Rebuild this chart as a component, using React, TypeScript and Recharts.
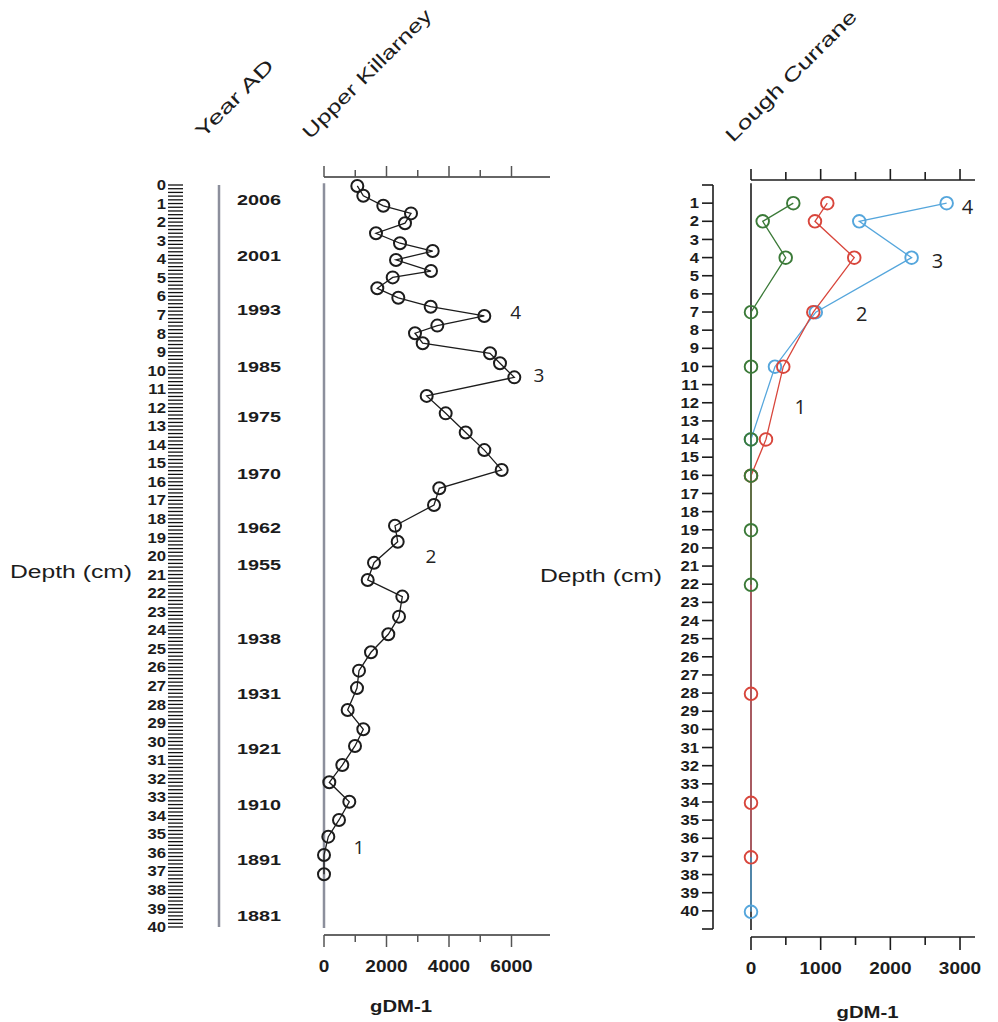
import React from 'react';
import { ScatterChart, Scatter, XAxis, YAxis, ReferenceLine, Label } from 'recharts';

// ---------------- Data ----------------
// Upper Killarney (depth cm, gDM-1)
const ukDepth = [0.05, 0.58, 1.12, 1.53, 2.06, 2.6, 3.14, 3.56, 4.04, 4.64, 4.98, 5.57, 6.08, 6.56, 7.06, 7.58, 7.99, 8.53, 9.07, 9.61, 10.37, 11.37, 12.31, 13.34, 14.29, 15.36, 16.35, 17.25, 18.37, 19.23, 20.36, 21.29, 22.19, 23.27, 24.22, 25.19, 26.18, 27.12, 28.3, 29.34, 30.24, 31.27, 32.2, 33.25, 34.23, 35.13, 36.12, 37.16];
const ukValue = [1066, 1258, 1898, 2784, 2592, 1664, 2432, 3478, 2304, 3424, 2198, 1706, 2378, 3414, 5130, 3626, 2912, 3158, 5312, 5632, 6090, 3286, 3894, 4534, 5130, 5686, 3690, 3520, 2272, 2358, 1600, 1398, 2506, 2400, 2058, 1504, 1120, 1056, 757, 1258, 992, 586, 170, 810, 480, 138, 0, 0];

// Year AD scale
const yearLabels = ['2006', '2001', '1993', '1985', '1975', '1970', '1962', '1955', '1938', '1931', '1921', '1910', '1891', '1881'];
const yearDepths = [0.8, 3.8, 6.75, 9.8, 12.5, 15.55, 18.5, 20.5, 24.45, 27.45, 30.4, 33.4, 36.4, 39.4];

// Lough Currane
const lcGreenDepth = [1, 2, 4, 7, 10, 14, 16, 19, 22];
const lcGreenValue = [607, 168, 498, 0, 0, 0, 0, 0, 0];
const lcRedDepth = [1, 2, 4, 7, 10, 14, 16, 28, 34, 37];
const lcRedValue = [1095, 918, 1482, 894, 463, 215, 0, 0, 0, 0];
const lcBlueDepth = [1, 2, 4, 7, 10, 14, 40];
const lcBlueValue = [2808, 1554, 2305, 930, 344, 0, 0];

// zone annotations
const ukZoneLabels = ['4', '3', '2', '1'];
const ukZoneDepth = [6.85, 10.23, 20.0, 35.7];
const ukZoneValue = [6134, 6880, 3418, 1120];
const lcZoneLabels = ['4', '3', '2', '1'];
const lcZoneDepth = [1.16, 4.14, 7.06, 12.2];
const lcZoneValue = [3107, 2677, 1589, 706];

// tick values
const rulerTicks = Array.from({ length: 201 }, (_, i) => i / 5);
const lcDepthTicks = Array.from({ length: 42 }, (_, i) => i);
const ukTicks = [0, 1000, 2000, 3000, 4000, 5000, 6000];
const lcTicks = [0, 500, 1000, 1500, 2000, 2500, 3000];

// ---------------- Styling ----------------
const FONT = '"Liberation Sans", Arial, Helvetica, sans-serif';
const ZONE_FONT = '"Open Sans", "Noto Sans", sans-serif';
const INK = '#1c1c1c';
const GREY = '#8c8f9c';
const GREEN = '#3b7a38';
const RED = '#d8463c';
const BLUE = '#55a6dc';

const ukRows = ukDepth.map((d, i) => ({ d, v: ukValue[i] }));
const ukZoneRows = ukZoneLabels.map((label, i) => ({ label, d: ukZoneDepth[i], v: ukZoneValue[i] }));
const greenRows = lcGreenDepth.map((d, i) => ({ d, v: lcGreenValue[i] }));
const redRows = lcRedDepth.map((d, i) => ({ d, v: lcRedValue[i] }));
const blueRows = lcBlueDepth.map((d, i) => ({ d, v: lcBlueValue[i] }));
const lcZoneRows = lcZoneLabels.map((label, i) => ({ label, d: lcZoneDepth[i], v: lcZoneValue[i] }));

type STProps = {
  x: number; y: number; text: string; size: number; weight?: string | number; sx?: number;
  anchor?: 'start' | 'middle' | 'end'; fill?: string; rotate?: number; length?: number;
  family?: string; baseline?: string;
};

function SText({ x, y, text, size, weight = 'normal', sx = 1, anchor = 'start', fill = INK, rotate = 0, length, family = FONT, baseline = 'central' }: STProps) {
  const t = `translate(${x},${y})${rotate ? ` rotate(${rotate})` : ''}${sx !== 1 ? ` scale(${sx},1)` : ''}`;
  return (
    <text
      transform={t}
      x={0}
      y={0}
      fontSize={size}
      fontWeight={weight}
      fontFamily={family}
      textAnchor={anchor}
      dominantBaseline={baseline}
      fill={fill}
      textLength={length}
      lengthAdjust={length ? 'spacingAndGlyphs' : undefined}
    >
      {text}
    </text>
  );
}

// ---------------- Tick renderers ----------------
const RulerTick = (p: any) => {
  const { x, y, payload } = p;
  const v = payload.value;
  const isInt = Math.abs(v - Math.round(v)) < 1e-6;
  return (
    <g>
      <line x1={x - 15} x2={x} y1={y} y2={y} stroke="#111" strokeWidth={1.3} />
      {isInt ? <SText x={x - 17} y={y} text={String(Math.round(v))} size={14.5} weight="bold" sx={1.15} anchor="end" /> : null}
    </g>
  );
};

const YearTick = (p: any) => {
  const { x, y, payload } = p;
  let idx = 0;
  yearDepths.forEach((d, i) => { if (Math.abs(d - payload.value) < 1e-6) idx = i; });
  return <SText x={x + 18} y={y} text={yearLabels[idx]} size={15.5} weight="bold" sx={1.28} anchor="start" />;
};

const makeTopTick = (majorStep: number, stroke: string, w: number, majorLen: number, minorLen: number) => (p: any) => {
  const { x, y, payload } = p;
  const major = payload.value % majorStep === 0;
  return <line x1={x} x2={x} y1={y} y2={y - (major ? majorLen : minorLen)} stroke={stroke} strokeWidth={w} />;
};

const makeBottomTick = (majorStep: number, stroke: string, w: number, majorLen: number, minorLen: number) => (p: any) => {
  const { x, y, payload } = p;
  const major = payload.value % majorStep === 0;
  return (
    <g>
      <line x1={x} x2={x} y1={y} y2={y + (major ? majorLen : minorLen)} stroke={stroke} strokeWidth={w} />
      {major ? <SText x={x} y={y + 31.5} text={String(payload.value)} size={17} weight="bold" sx={1.12} anchor="middle" /> : null}
    </g>
  );
};

const LcDepthTick = (p: any) => {
  const { x, y, payload } = p;
  const v = payload.value;
  const show = v >= 1 && v <= 40;
  return (
    <g>
      <line x1={x - 11} x2={x} y1={y} y2={y} stroke={INK} strokeWidth={1.6} />
      {show ? <SText x={x - 14} y={y} text={String(v)} size={14.5} weight="bold" sx={1.15} anchor="end" /> : null}
    </g>
  );
};

const ukCircle = (p: any) => <circle cx={p.cx} cy={p.cy} r={6} fill="none" stroke={INK} strokeWidth={2} />;
const makeCircle = (color: string) => (p: any) => <circle cx={p.cx} cy={p.cy} r={6.3} fill="none" stroke={color} strokeWidth={1.9} />;
const makeZoneText = (size: number) => (p: any) => (
  <SText x={p.cx} y={p.cy} text={p.payload.label} size={size} family={ZONE_FONT} anchor="middle" fill="#222" />
);

export default function App() {
  return (
    <div style={{ position: 'absolute', left: 0, top: 0, width: 998, height: 1022, background: '#ffffff', overflow: 'hidden' }}>
      {/* Depth ruler + Year AD */}
      <div style={{ position: 'absolute', left: 0, top: 0 }}>
        <ScatterChart width={290} height={1022} margin={{ top: 185, bottom: 95, left: 0, right: 0 }}>
          <XAxis type="number" dataKey="x" domain={[0, 1]} hide allowDataOverflow />
          <YAxis
            yAxisId="ruler" orientation="left" width={183} type="number" dataKey="d" domain={[0, 40]} reversed allowDataOverflow
            ticks={rulerTicks} interval={0} axisLine={false} tickLine={false} tickSize={0} tickMargin={0} tick={RulerTick}
            label={<Label content={() => <SText x={10} y={572} text="Depth (cm)" size={18} length={122} />} />}
          />
          <YAxis
            yAxisId="year" orientation="right" width={71} type="number" dataKey="d" domain={[0, 40]} reversed allowDataOverflow
            ticks={yearDepths} interval={0} axisLine={{ stroke: GREY, strokeWidth: 2.5 }} tickLine={false} tickSize={0} tickMargin={0} tick={YearTick}
            label={<Label content={() => <SText x={203} y={139} text="Year AD" size={19} rotate={-45} length={102} baseline="alphabetic" />} />}
          />
        </ScatterChart>
      </div>

      {/* Upper Killarney */}
      <div style={{ position: 'absolute', left: 290, top: 0 }}>
        <ScatterChart width={260} height={1022} margin={{ top: 167, bottom: 27, left: 34, right: 0 }}>
          <XAxis
            xAxisId="top" orientation="top" height={10} type="number" dataKey="v" domain={[0, 7232]} allowDataOverflow
            ticks={ukTicks} interval={0} axisLine={{ stroke: '#333', strokeWidth: 1.5 }} tickLine={false} tickSize={0} tickMargin={0}
            tick={makeTopTick(2000, '#555', 1.5, 11, 7)}
            label={<Label content={() => <SText x={20} y={140} text="Upper Killarney" size={19} rotate={-45} length={174} baseline="alphabetic" />} />}
          />
          <XAxis
            xAxisId="bottom" orientation="bottom" height={60} type="number" dataKey="v" domain={[0, 7232]}
            ticks={ukTicks} interval={0} axisLine={{ stroke: '#333', strokeWidth: 1.5 }} tickLine={false} tickSize={0} tickMargin={0}
            tick={makeBottomTick(2000, '#555', 1.5, 12, 7)}
            label={<Label content={() => <SText x={111} y={1006} text="gDM-1" size={16} weight="bold" anchor="middle" length={62} />} />}
          />
          <YAxis type="number" dataKey="d" domain={[0, 40]} reversed hide padding={{ top: 8, bottom: 8 }} />
          <ReferenceLine xAxisId="bottom" ifOverflow="visible" segment={[{ x: 0, y: -0.1 }, { x: 0, y: 40.05 }]} stroke={GREY} strokeWidth={2.5} />
          <Scatter xAxisId="bottom" data={ukRows} line={{ stroke: INK, strokeWidth: 1.3 }} shape={ukCircle} isAnimationActive={false} />
          <Scatter xAxisId="bottom" data={ukZoneRows} shape={makeZoneText(19)} isAnimationActive={false} />
        </ScatterChart>
      </div>

      {/* Lough Currane depth axis */}
      <div style={{ position: 'absolute', left: 535, top: 0 }}>
        <ScatterChart width={179} height={1022} margin={{ top: 185, bottom: 93, left: 0, right: 0 }}>
          <XAxis type="number" dataKey="x" domain={[0, 1]} hide allowDataOverflow />
          <YAxis
            type="number" dataKey="d" orientation="left" width={178} domain={[0, 41]} reversed allowDataOverflow
            ticks={lcDepthTicks} interval={0} axisLine={{ stroke: INK, strokeWidth: 1.6 }} tickLine={false} tickSize={0} tickMargin={0}
            tick={LcDepthTick}
            label={<Label content={() => <SText x={5} y={576} text="Depth (cm)" size={18} length={122} />} />}
          />
        </ScatterChart>
      </div>

      {/* Lough Currane data */}
      <div style={{ position: 'absolute', left: 714, top: 0 }}>
        <ScatterChart width={284} height={1022} margin={{ top: 170, bottom: 25, left: 37, right: 23 }}>
          <XAxis
            xAxisId="top" orientation="top" height={10} type="number" dataKey="v" domain={[0, 3215]} allowDataOverflow
            ticks={lcTicks} interval={0} axisLine={{ stroke: INK, strokeWidth: 1.6 }} tickLine={false} tickSize={0} tickMargin={0}
            tick={makeTopTick(1000, INK, 1.6, 11, 8)}
            label={<Label content={() => <SText x={19} y={143} text="Lough Currane" size={19} rotate={-45} length={177} baseline="alphabetic" />} />}
          />
          <XAxis
            xAxisId="bottom" orientation="bottom" height={60} type="number" dataKey="v" domain={[0, 3215]}
            ticks={lcTicks} interval={0} axisLine={{ stroke: INK, strokeWidth: 1.6 }} tickLine={false} tickSize={0} tickMargin={0}
            tick={makeBottomTick(1000, INK, 1.6, 13, 8)}
            label={<Label content={() => <SText x={153.5} y={1012} text="gDM-1" size={16} weight="bold" anchor="middle" length={62} />} />}
          />
          <YAxis type="number" dataKey="d" domain={[0, 41]} reversed hide padding={{ top: 5, bottom: 7 }} />
          <ReferenceLine xAxisId="bottom" ifOverflow="visible" segment={[{ x: 0, y: -0.1 }, { x: 0, y: 41 }]} stroke={INK} strokeWidth={1.6} />
          <Scatter xAxisId="bottom" data={blueRows} line={{ stroke: BLUE, strokeWidth: 1.3 }} shape={makeCircle(BLUE)} isAnimationActive={false} />
          <Scatter xAxisId="bottom" data={redRows} line={{ stroke: RED, strokeWidth: 1.3 }} shape={makeCircle(RED)} isAnimationActive={false} />
          <Scatter xAxisId="bottom" data={greenRows} line={{ stroke: GREEN, strokeWidth: 1.3 }} shape={makeCircle(GREEN)} isAnimationActive={false} />
          <Scatter xAxisId="bottom" data={lcZoneRows} shape={makeZoneText(20)} isAnimationActive={false} />
        </ScatterChart>
      </div>
    </div>
  );
}
